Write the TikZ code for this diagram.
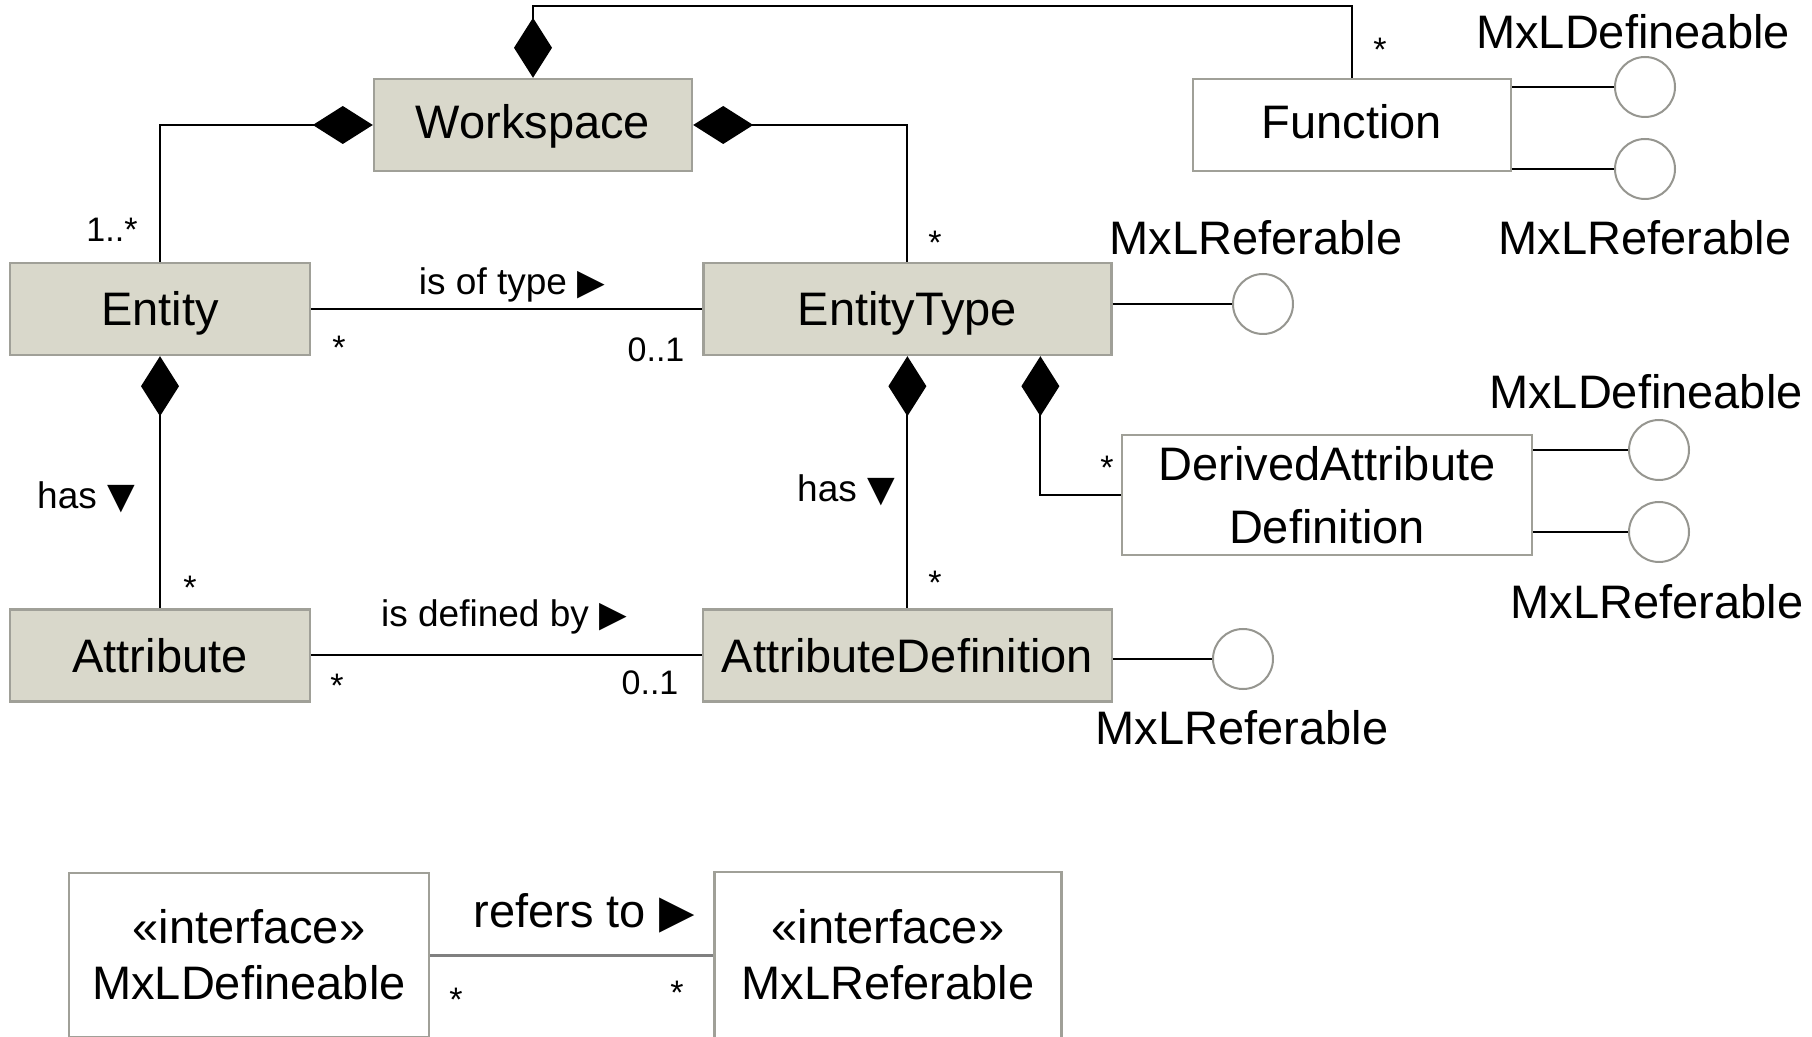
\documentclass[tikz,border=0pt]{standalone}
\usepackage{fontspec}
\setmainfont{Liberation Sans}
\newfontfamily\trifont{DejaVu Sans}
\usetikzlibrary{positioning}
\usetikzlibrary{arrows.meta}

\definecolor{classFill}{RGB}{217,216,203}
\definecolor{classDraw}{RGB}{160,160,152}
\definecolor{lollyDraw}{RGB}{150,150,144}
\definecolor{refLine}{RGB}{128,128,128}

\newcommand{\rtri}{{\trifont\fontsize{18}{18}\selectfont ▶}}
\newcommand{\dtri}{{\trifont\fontsize{18}{18}\selectfont ▼}}

\begin{document}
\begin{tikzpicture}[x=0.5pt, y=-0.5pt]
		\tikzstyle{elem} = [rectangle, minimum height=46pt, inner sep=0pt, align=center, draw=classDraw, line width=1.2pt, fill=classFill, font=\fontsize{23.5}{28}\selectfont]
		\tikzstyle{plain} = [elem, fill=white]
		\tikzstyle{oneline} = [text height=17pt, text depth=0pt]
		\tikzstyle{lolly} = [circle, minimum size=30pt, inner sep=0pt, draw=lollyDraw, line width=1pt]
		\tikzstyle{iname} = [font=\fontsize{23.5}{28}\selectfont, inner sep=0pt]
		\tikzstyle{role} = [font=\fontsize{18.5}{22}\selectfont, inner sep=0pt]
		\tikzstyle{mult} = [font=\fontsize{17}{20}\selectfont, inner sep=0pt]
		\tikzstyle{link} = [black, line width=1pt]
		\tikzstyle{comp} = [link, {Diamond[length=30pt, width=19pt]}-]

		\useasboundingbox (0,0) rectangle (1812,1037);
		\clip (0,0) rectangle (1812,1037);

		\node (workspace) [elem, oneline, text height=14pt, minimum width=159pt] at (533,125) {Workspace};
		\node (function) [plain, oneline, text height=14pt, minimum width=159pt] at (1352,125) {Function};
		\node (entity) [elem, oneline, minimum width=150pt] at (160,309) {Entity};
		\node (entityType) [elem, oneline, minimum width=204pt, right=195.5pt of entity] {EntityType};
		\node (attribute) [elem, oneline, minimum width=150pt, below=126pt of entity] {Attribute};
		\node (attributeDefinition) [elem, oneline, minimum width=204.5pt, below=126pt of entityType] {AttributeDefinition};
		\node (derivedAttrDef) [plain, minimum width=205pt, minimum height=60pt, font=\fontsize{23.5}{31.5}\selectfont] at (1327,495) {DerivedAttribute \\ Definition};

		\node (ifDefineable) [plain, minimum width=180pt, minimum height=82pt] at (249,955) {«interface» \\ MxLDefineable};
		\node (ifReferable) [plain, minimum width=173.5pt, minimum height=83pt, right=141.5pt of ifDefineable] {«interface» \\ MxLReferable};

		% lollipops
		\node (funcDefineable) [lolly] at (1645,87) {};
		\node (funcReferable) [lolly] at (1645,169) {};
		\node (typeReferable) [lolly] at (1263,304) {};
		\node (derivedDefineable) [lolly] at (1659,450) {};
		\node (derivedReferable) [lolly] at (1659,532) {};
		\node (attrDefReferable) [lolly] at (1243,659) {};

		\node (lblFuncDefineable) [iname] at (1633,32) {MxLDefineable};
		\node (lblFuncReferable) [iname] at (1645,238) {MxLReferable};
		\node (lblTypeReferable) [iname] at (1256,238) {MxLReferable};
		\node (lblDerivedDefineable) [iname] at (1646,392) {MxLDefineable};
		\node (lblDerivedReferable) [iname] at (1657,602) {MxLReferable};
		\node (lblAttrDefReferable) [iname] at (1242,728) {MxLReferable};

		\draw [link] (function.east |- funcDefineable) -- (funcDefineable);
		\draw [link] (function.east |- funcReferable) -- (funcReferable);
		\draw [link] (entityType.east |- typeReferable) -- (typeReferable);
		\draw [link] (derivedAttrDef.east |- derivedDefineable) -- (derivedDefineable);
		\draw [link] (derivedAttrDef.east |- derivedReferable) -- (derivedReferable);
		\draw [link] (attributeDefinition.east |- attrDefReferable) -- (attrDefReferable);

		% associations
		\draw [comp] (workspace.north) -- ++(0,-72) -| (function.north);
		\draw [comp] (workspace.west) -| (entity.north);
		\draw [comp] (workspace.east) -| (entityType.north);
		\draw [link] (entity) -- (entityType);
		\draw [comp] (entity.south) -- (attribute.north);
		\draw [link] (attribute) -- (attributeDefinition);
		\draw [comp] (entityType.south) -- (attributeDefinition.north);
		\draw [comp] ([xshift=66.5pt]entityType.south) |- (derivedAttrDef.west);
		\draw [refLine, line width=1.5pt] (ifDefineable) -- (ifReferable);

		\node (isOfType) [role] at (512,285) {is of type \rtri};
		\node (hasAttr) [role] at (86,497) {has \dtri};
		\node (isDefinedBy) [role] at (504,617) {is defined by \rtri};
		\node (hasAttrDef) [role] at (846,490) {has \dtri};
		\node (refersTo) [iname] at (584,913) {refers to {\trifont\fontsize{23}{23}\selectfont ▶}};

		\node (multEntityWs) [mult] at (112,230) {1..*};
		\node (multEntityType) [mult] at (339,348) {*};
		\node (multTypeEntity) [mult] at (656,350) {0..1};
		\node (multTypeWs) [mult] at (935,243) {*};
		\node (multFunctionWs) [mult] at (1380,50) {*};
		\node (multAttribute) [mult] at (190,588) {*};
		\node (multAttrDef) [mult] at (337,686) {*};
		\node (multDefAttr) [mult] at (650,683) {0..1};
		\node (multAttrDefType) [mult] at (935,583) {*};
		\node (multDerived) [mult] at (1107,468) {*};
		\node (multDefineable) [mult] at (456,1000) {*};
		\node (multReferable) [mult] at (677,993) {*};
	\end{tikzpicture}
\end{document}
